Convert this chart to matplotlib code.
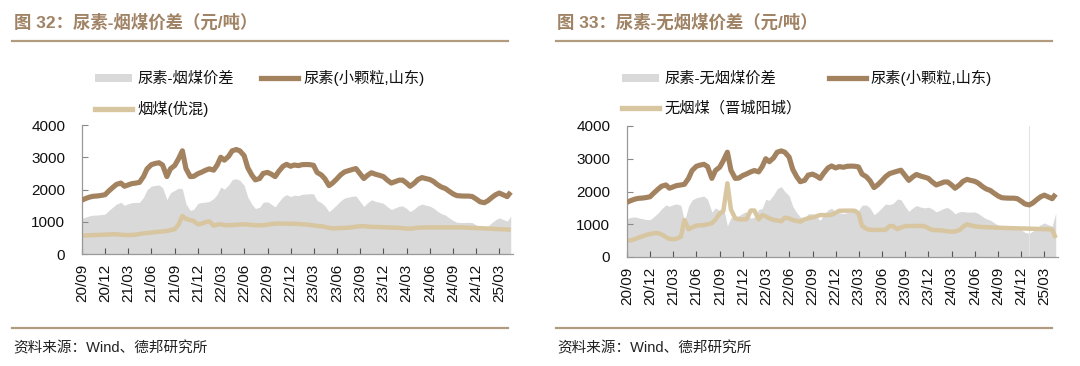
import numpy as np
import pandas as pd
import matplotlib
matplotlib.use("Agg")
import matplotlib.pyplot as plt
from matplotlib.patches import Patch
from matplotlib.lines import Line2D

plt.rcParams['font.family'] = ['Liberation Sans', 'Noto Sans CJK SC', 'DejaVu Sans']

# ---------------- data (semi-monthly, 2020-09-01 .. 2025-04-15) ----------------
dates = pd.date_range('2020-09-01', periods=112, freq='SMS')

urea = [1670, 1720, 1765, 1790, 1800, 1815, 1840, 1950, 2070, 2160,
        2200, 2100, 2140, 2180, 2200, 2220, 2400, 2640, 2770, 2805,
        2830, 2760, 2400, 2640, 2745, 2940, 3200, 2650, 2400, 2410,
        2490, 2535, 2600, 2640, 2600, 2760, 3000, 2910, 3030, 3200,
        3240, 3200, 3050, 2680, 2450, 2300, 2340, 2500, 2530, 2480,
        2400, 2560, 2720, 2780, 2720, 2760, 2740, 2770, 2775, 2770,
        2750, 2530, 2450, 2330, 2120, 2200, 2330, 2450, 2545, 2580,
        2620, 2650, 2480, 2340, 2450, 2520, 2470, 2440, 2400, 2300,
        2200, 2240, 2290, 2290, 2200, 2100, 2200, 2310, 2370, 2340,
        2310, 2250, 2150, 2080, 2030, 1950, 1860, 1810, 1800, 1796,
        1796, 1780, 1700, 1620, 1590, 1650, 1760, 1840, 1890, 1840,
        1780, 1920]

bituminous = [570, 575, 580, 585, 590, 595, 600, 605, 610, 610,
              600, 590, 585, 590, 600, 620, 640, 650, 665, 680,
              690, 700, 715, 740, 770, 900, 1180, 1090, 1050, 1020,
              920, 940, 990, 1010, 880, 910, 920, 900, 890, 895,
              905, 915, 920, 910, 900, 890, 890, 895, 910, 930,
              940, 945, 945, 940, 940, 935, 930, 920, 915, 900,
              885, 870, 860, 840, 810, 795, 800, 805, 810, 815,
              830, 850, 860, 865, 850, 840, 840, 835, 830, 825,
              820, 815, 810, 800, 790, 785, 800, 815, 820, 825,
              825, 825, 825, 825, 825, 825, 825, 825, 825, 820,
              815, 810, 805, 800, 795, 790, 780, 775, 770, 765,
              760, 750]

anthracite = [500, 510, 540, 590, 630, 670, 700, 725, 730, 690,
              610, 550, 545, 560, 620, 1130, 850, 900, 960, 970,
              970, 1000, 1030, 1140, 1330, 1400, 2250, 1450, 1180, 1150,
              1150, 1150, 1420, 1420, 1150, 1280, 1240, 1180, 1130, 1120,
              1090, 1200, 1180, 1130, 1100, 1080, 1150, 1180, 1210, 1240,
              1280, 1280, 1280, 1290, 1350, 1410, 1415, 1415, 1415, 1410,
              1330, 950, 860, 830, 827, 827, 827, 830, 945, 945,
              850, 900, 945, 947, 947, 947, 947, 940, 880, 827,
              820, 815, 800, 780, 775, 780, 820, 920, 1000, 970,
              935, 925, 915, 910, 906, 900, 895, 890, 886, 882,
              878, 875, 872, 870, 866, 862, 858, 855, 850, 848,
              840, 580]

tick_dates = pd.date_range('2020-09-01', '2025-03-01', freq='3MS')
tick_labels = [d.strftime('%y/%m') for d in tick_dates]

titles = ['图 32：尿素-烟煤价差（元/吨）', '图 33：尿素-无烟煤价差（元/吨）']
spread_names = ['尿素-烟煤价差', '尿素-无烟煤价差']
urea_name = '尿素(小颗粒,山东)'
coal_names = ['烟煤(优混)', '无烟煤（晋城阳城）']
source = '资料来源：Wind、德邦研究所'

# ---------------- style ----------------
C_SPREAD = '#d9d9d9'
C_UREA = '#a38260'
C_COAL = '#d8c6a0'
C_TITLE = '#a08264'
C_RULE = '#b39b80'

W, H = 1080, 366
fig = plt.figure(figsize=(W / 100, H / 100), dpi=100)

def fx(px):
    return px / W

def fy(py):
    return 1 - py / H

panels = [
    dict(coal=bituminous, ax=(82, 513, 125, 254), x0=12, x1=508, tx=14, leg=(95, 70)),
    dict(coal=anthracite, ax=(627, 1058, 126, 257), x0=556, x1=1052, tx=557, leg=(622, 70)),
]

for k, p in enumerate(panels):
    l, r, t, b = p['ax']
    ax = fig.add_axes([fx(l), fy(b), fx(r - l), fy(t) - fy(b)])
    u = np.array(urea, dtype=float)
    c = np.array(p['coal'], dtype=float)
    spread = u - c
    ax.fill_between(dates, 0, spread, color=C_SPREAD, lw=0, zorder=1)
    if k == 1:
        ax.axvline(pd.Timestamp('2025-01-01'), color='#e3e3e3', lw=0.8, zorder=1.5)
    ax.plot(dates, u, color=C_UREA, lw=3.7, solid_capstyle='butt', zorder=3)
    ax.plot(dates, c, color=C_COAL, lw=3.2, solid_capstyle='butt', zorder=2)

    ax.set_ylim(0, 4000)
    ax.set_yticks([0, 1000, 2000, 3000, 4000])
    ax.set_xlim(pd.Timestamp('2020-09-01'), pd.Timestamp('2025-04-24'))
    ax.set_xticks(tick_dates)
    ax.set_xticklabels(tick_labels, rotation=90, fontsize=11, color='#111111')
    ax.tick_params(axis='y', labelsize=11, labelcolor='#111111', direction='in',
                   length=4, width=0.8, color='#888888', pad=12)
    ax.tick_params(axis='x', direction='in', length=4, width=0.8, color='#555555', pad=7)
    for s in ['top', 'right']:
        ax.spines[s].set_visible(False)
    for s in ['left', 'bottom']:
        ax.spines[s].set_color('#999999')
        ax.spines[s].set_linewidth(0.9)
    ax.set_facecolor('none')

    # title + rules
    fig.text(fx(p['tx']), fy(22), titles[k], fontsize=12.5, fontweight='bold',
             color=C_TITLE, va='center', ha='left')
    fig.add_artist(Line2D([fx(p['x0']), fx(p['x1'])], [fy(41), fy(41)],
                          color=C_RULE, lw=1.6))
    fig.add_artist(Line2D([fx(p['x0']), fx(p['x1'])], [fy(328), fy(328)],
                          color=C_RULE, lw=1.6))
    fig.text(fx(p['x0'] + 1), fy(348), source, fontsize=10.5, color='#222222',
             va='center', ha='left')

    handles = [Patch(facecolor=C_SPREAD, edgecolor='none'),
               Line2D([], [], color=C_COAL, lw=3.8),
               Line2D([], [], color=C_UREA, lw=3.8)]
    labels = [spread_names[k], coal_names[k], urea_name]
    fig.legend(handles, labels, loc='upper left',
               bbox_to_anchor=(fx(p['leg'][0]), fy(p['leg'][1])),
               ncol=2, frameon=False, fontsize=11, borderpad=0, borderaxespad=0,
               handlelength=2.45, handleheight=0.45, handletextpad=0.3,
               columnspacing=1.8, labelspacing=0.95, labelcolor='#111111')

fig.savefig('out.png', dpi=100)
